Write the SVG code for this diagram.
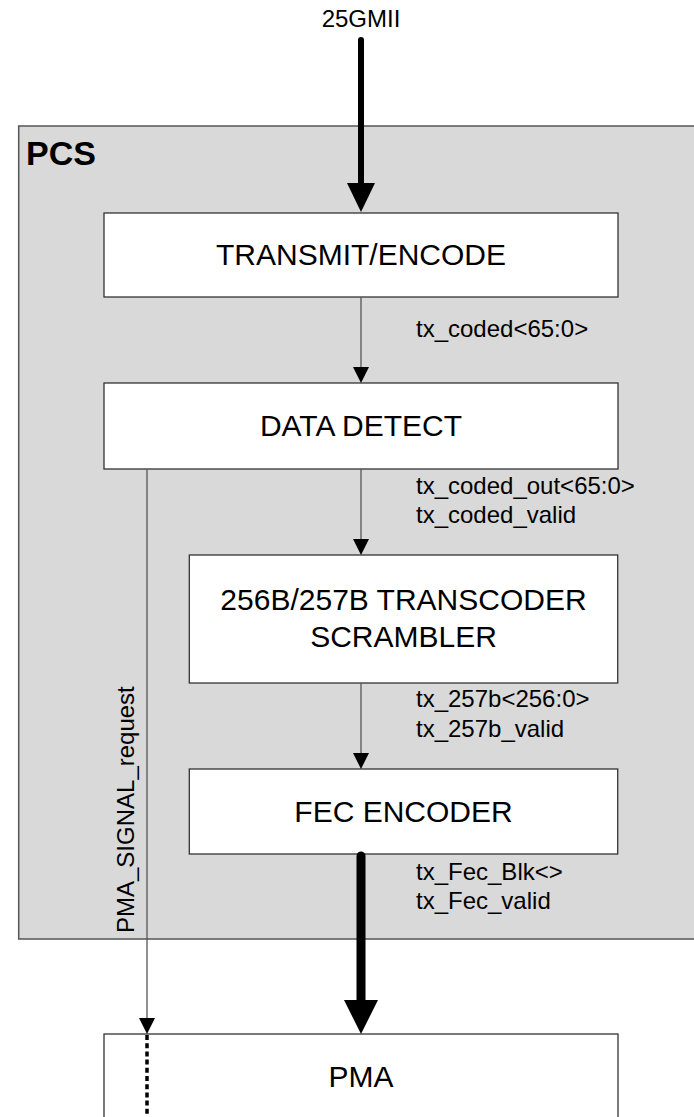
<svg xmlns="http://www.w3.org/2000/svg" width="694" height="1117" viewBox="0 0 694 1117">
<style>
text{font-family:"Liberation Sans",Arial,sans-serif;fill:#000}
.box{fill:#fff;stroke:#333;stroke-width:1.3}
.big{font-size:30px;text-anchor:middle}
.lbl{font-size:24px}
.thin{stroke:#555;stroke-width:1.3;fill:none}
.head{fill:#000}
</style>
<rect width="694" height="1117" fill="#fff"/>
<g id="pcs">
<rect x="18.7" y="126" width="690" height="813" fill="#d9d9d9" stroke="#555" stroke-width="1.5"/>
<text x="26" y="165" style="font-size:34px;font-weight:bold">PCS</text>
</g>
<g id="transmit-encode">
<rect class="box" x="104" y="213" width="514" height="84"/>
<text class="big" x="361" y="265">TRANSMIT/ENCODE</text>
</g>
<g id="data-detect">
<rect class="box" x="104" y="383" width="514" height="86"/>
<text class="big" x="361" y="436">DATA DETECT</text>
</g>
<g id="transcoder">
<rect class="box" x="189.3" y="555" width="428.4" height="128"/>
<text class="big" x="403.5" y="610">256B/257B TRANSCODER</text>
<text class="big" x="403.5" y="646.5">SCRAMBLER</text>
</g>
<g id="fec-encoder">
<rect class="box" x="189.3" y="769" width="428.4" height="85"/>
<text class="big" x="403.5" y="822">FEC ENCODER</text>
</g>
<g id="pma">
<rect class="box" x="104" y="1034" width="514" height="100"/>
<text class="big" x="361" y="1087">PMA</text>
</g>
<g id="connectors">
<text class="lbl" x="361" y="27" text-anchor="middle">25GMII</text>
<line x1="361" y1="40" x2="361" y2="186" stroke="#000" stroke-width="6" stroke-linecap="round"/>
<polygon class="head" points="347,183 375,183 361,212"/>
<line class="thin" x1="361" y1="297" x2="361" y2="368"/>
<polygon class="head" points="353,367 369,367 361,383"/>
<text class="lbl" x="416" y="337">tx_coded&lt;65:0&gt;</text>
<line class="thin" x1="361" y1="469" x2="361" y2="540"/>
<polygon class="head" points="353,539 369,539 361,555"/>
<text class="lbl" x="416" y="494">tx_coded_out&lt;65:0&gt;</text>
<text class="lbl" x="416" y="523">tx_coded_valid</text>
<line class="thin" x1="361" y1="683" x2="361" y2="754"/>
<polygon class="head" points="353,753 369,753 361,769"/>
<text class="lbl" x="416" y="707">tx_257b&lt;256:0&gt;</text>
<text class="lbl" x="416" y="737">tx_257b_valid</text>
<line x1="361" y1="856" x2="361" y2="1003" stroke="#000" stroke-width="9" stroke-linecap="round"/>
<polygon class="head" points="344,1000 378,1000 361,1034"/>
<text class="lbl" x="416" y="880">tx_Fec_Blk&lt;&gt;</text>
<text class="lbl" x="416" y="909">tx_Fec_valid</text>
<line class="thin" x1="147" y1="469" x2="147" y2="1019"/>
<polygon class="head" points="139,1018 155,1018 147,1034"/>
<text class="lbl" transform="translate(134,933) rotate(-90)">PMA_SIGNAL_request</text>
<line x1="147" y1="1035" x2="147" y2="1117" stroke="#000" stroke-width="3.5" stroke-dasharray="5 3.2"/>
</g>
</svg>
